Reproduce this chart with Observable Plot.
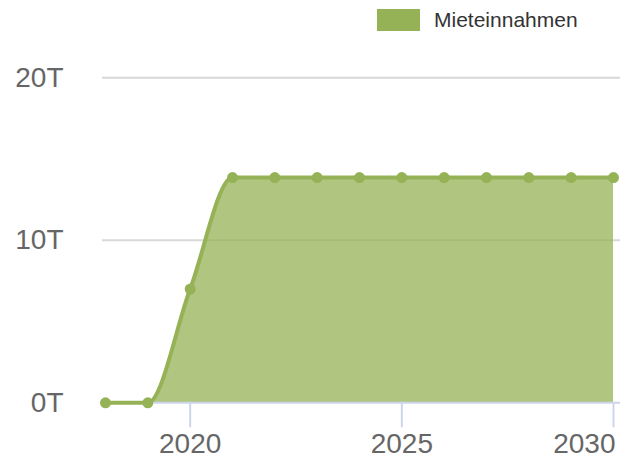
<!DOCTYPE html>
<html>
<head>
<meta charset="utf-8">
<script src="https://cdn.jsdelivr.net/npm/d3@7"></script>
<script src="https://cdn.jsdelivr.net/npm/@observablehq/plot@0.6"></script>
<style>
  body { margin: 0; background: #fff; font-family: "Liberation Sans", Arial, sans-serif; }
  #legend { position: relative; height: 40px; width: 631px; }
  #legend .sw { position: absolute; left: 377px; top: 9px; width: 43px; height: 22px; background: #95b256; }
  #legend .lb { position: absolute; left: 434px; top: 8px; font-size: 21px; line-height: 24px; color: #333; }
  svg { display: block; }
</style>
</head>
<body>
<div id="legend"><div class="sw"></div><div class="lb">Mieteinnahmen</div></div>
<div id="chart"></div>
<script>
const seriesName = "Mieteinnahmen";
const years = [2018, 2019, 2020, 2021, 2022, 2023, 2024, 2025, 2026, 2027, 2028, 2029, 2030];
const values = [0, 0, 7, 13.86, 13.86, 13.86, 13.86, 13.86, 13.86, 13.86, 13.86, 13.86, 13.86];
const yTicks = [0, 10, 20];
const xTicks = [2020, 2025, 2030];

const data = years.map((y, i) => ({year: y, value: values[i]}));
const green = "#95b256";
const axisBlue = "#ccd6eb";
const lastTick = xTicks[xTicks.length - 1];

const chart = Plot.plot({
  width: 631,
  height: 421,
  marginLeft: 102,
  marginRight: 11,
  marginTop: 37.3,
  marginBottom: 58.7,
  style: {fontFamily: "'Liberation Sans', Arial, sans-serif", fontSize: "28px", background: "#fff"},
  x: {domain: [2018, 2030], insetLeft: 3, insetRight: 7, label: null},
  y: {domain: [0, 20], label: null},
  marks: [
    Plot.ruleY([10, 20], {stroke: "#d8d8d8", strokeWidth: 2}),
    Plot.areaY(data, {x: "year", y: "value", curve: "monotone-x", fill: green, fillOpacity: 0.75}),
    Plot.ruleY([0], {stroke: axisBlue, strokeWidth: 2}),
    Plot.axisX({ticks: xTicks, label: null, tickSize: 25, tickPadding: 5, stroke: axisBlue, strokeWidth: 2, fill: "#666",
      tickFormat: d => d === lastTick ? "" : String(d), fontSize: 28}),
    Plot.text([lastTick], {x: d => d, text: d => String(d), frameAnchor: "bottom", lineAnchor: "top", textAnchor: "end",
      dy: 30, dx: 2, fill: "#666", fontSize: 28}),
    Plot.axisY({ticks: yTicks, label: null, tickSize: 0, tickPadding: 39, fill: "#666", tickFormat: d => d + "T", fontSize: 28}),
    Plot.line(data, {x: "year", y: "value", curve: "monotone-x", stroke: green, strokeWidth: 4}),
    Plot.dot(data, {x: "year", y: "value", r: 5.5, fill: green})
  ]
});
document.getElementById("chart").appendChild(chart);
</script>
</body>
</html>
